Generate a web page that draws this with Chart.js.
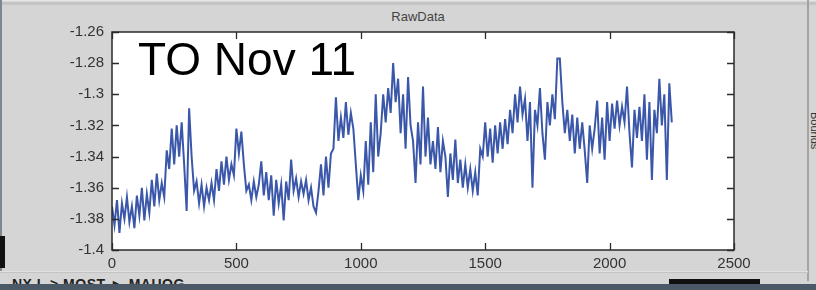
<!DOCTYPE html>
<html>
<head>
<meta charset="utf-8">
<script src="https://cdn.jsdelivr.net/npm/chart.js@4"></script>
<style>
  html, body { margin: 0; padding: 0; }
  body {
    width: 816px; height: 290px; overflow: hidden; position: relative;
    background: #d5d5d5;
    font-family: "Liberation Sans", Arial, sans-serif;
  }
  #topEdge { position: absolute; left: 0; top: 0; width: 816px; height: 6px;
    background: linear-gradient(#eeeeee 0, #bdbdbd 3px, #d5d5d5 6px); }
  #leftEdge { position: absolute; left: 0; top: 0; width: 2px; height: 272px; background: #7d8790; }
  #leftBar { position: absolute; left: 0; top: 236px; width: 5px; height: 32px; background: #111; }
  #rightEdge { position: absolute; left: 807px; top: 0; width: 2px; height: 281px; background: #a3a3a3; }
  #rightText { position: absolute; left: 811px; top: 112px; font-size: 11px; color: #333;
    transform-origin: 0 0; transform: rotate(90deg) translate(0, -10px); white-space: nowrap; }
  #bottomLine { position: absolute; left: 0; top: 271px; width: 808px; height: 2px;
    background: linear-gradient(#eeeeee, #b5b5b5); }
  #bottomText { position: absolute; left: 12px; top: 276px; font-size: 14px; font-weight: bold;
    color: #222; letter-spacing: 0.5px; white-space: nowrap; }
  #bottomBar { position: absolute; left: 669px; top: 279px; width: 91px; height: 5px; background: #111; }
  #taskBar { position: absolute; left: 0; top: 284px; width: 816px; height: 6px; background: #4b5866; }
  #chartTitle { position: absolute; left: 0; width: 836px; top: 9px; text-align: center;
    font-size: 13px; color: #444; line-height: 16px; }
  #note { position: absolute; left: 138px; top: 36px; font-size: 46px; line-height: 46px;
    color: #000; white-space: nowrap; }
  canvas { position: absolute; left: 0; top: 0; }
</style>
</head>
<body>
<div id="topEdge"></div>
<div id="leftEdge"></div>
<div id="leftBar"></div>
<div id="rightEdge"></div>
<div id="rightText">Bounds</div>
<div id="bottomLine"></div>
<div id="bottomText">NX L &gt; MOST ► MAUOG</div>
<div id="bottomBar"></div>
<div id="taskBar"></div>
<div id="chartTitle">RawData</div>
<canvas id="chart" width="816" height="290"></canvas>
<div id="note">TO Nov 11</div>

<script>
// ========= DATA (one sample every 10 units) ========= //
const sampleStep = 10;

const rawData = [
  -1.372, -1.384, -1.368, -1.389, -1.370, -1.380, -1.366, -1.382, -1.372, -1.386,
  -1.365, -1.378, -1.360, -1.381, -1.364, -1.376, -1.355, -1.372, -1.351, -1.368,
  -1.357, -1.366, -1.336, -1.348, -1.322, -1.345, -1.320, -1.340, -1.318, -1.345,
  -1.375, -1.309, -1.340, -1.362, -1.356, -1.370, -1.358, -1.372, -1.360, -1.368,
  -1.357, -1.368, -1.348, -1.362, -1.343, -1.358, -1.340, -1.355, -1.345, -1.352,
  -1.322, -1.338, -1.324, -1.345, -1.362, -1.358, -1.368, -1.356, -1.366, -1.358,
  -1.343, -1.365, -1.350, -1.368, -1.352, -1.378, -1.355, -1.370, -1.358, -1.381,
  -1.356, -1.368, -1.342, -1.362, -1.354, -1.366, -1.356, -1.364, -1.355, -1.368,
  -1.360, -1.372, -1.376, -1.362, -1.345, -1.365, -1.340, -1.360, -1.338, -1.335,
  -1.302, -1.330, -1.315, -1.328, -1.305, -1.326, -1.312, -1.322, -1.345, -1.368,
  -1.352, -1.362, -1.330, -1.358, -1.318, -1.350, -1.300, -1.340, -1.325, -1.300,
  -1.318, -1.296, -1.312, -1.280, -1.305, -1.290, -1.325, -1.300, -1.335, -1.289,
  -1.320, -1.330, -1.357, -1.318, -1.345, -1.295, -1.340, -1.315, -1.345, -1.330,
  -1.348, -1.321, -1.350, -1.330, -1.340, -1.366, -1.338, -1.355, -1.329, -1.357,
  -1.342, -1.360, -1.345, -1.360, -1.348, -1.362, -1.350, -1.365, -1.335, -1.340,
  -1.318, -1.340, -1.322, -1.344, -1.320, -1.338, -1.318, -1.335, -1.316, -1.332,
  -1.310, -1.325, -1.300, -1.318, -1.295, -1.313, -1.303, -1.330, -1.305, -1.360,
  -1.310, -1.320, -1.296, -1.325, -1.342, -1.305, -1.320, -1.300, -1.316, -1.277,
  -1.277, -1.305, -1.325, -1.310, -1.330, -1.313, -1.338, -1.315, -1.335, -1.318,
  -1.336, -1.357, -1.320, -1.335, -1.322, -1.304, -1.338, -1.315, -1.342, -1.305,
  -1.330, -1.306, -1.322, -1.304, -1.320, -1.308, -1.318, -1.295, -1.325, -1.347,
  -1.310, -1.328, -1.308, -1.330, -1.300, -1.342, -1.305, -1.355, -1.310, -1.325,
  -1.290, -1.320, -1.300, -1.355, -1.293, -1.318
];

const xTicks = [0, 500, 1000, 1500, 2000, 2500];
const yTicks = [-1.4, -1.38, -1.36, -1.34, -1.32, -1.3, -1.28, -1.26];

// ========= PLOT BOX ========= //
const AREA = { left: 112, right: 734, top: 32, bottom: 250 };
const Y_AXIS_W = 50;
const X_AXIS_H = 30;
const TICK_LEN = 7;
const labelFont = { family: "'Liberation Sans', Arial, sans-serif", size: 15 };

const points = rawData.map((v, i) => ({ x: i * sampleStep, y: v }));

// white axes background + matlab style box with inward ticks
const boxPlugin = {
  id: "matlabBox",
  beforeDraw(chart) {
    const { ctx, chartArea: a } = chart;
    ctx.save();
    ctx.fillStyle = "#ffffff";
    ctx.fillRect(a.left, a.top, a.right - a.left, a.bottom - a.top);
    ctx.restore();
  },
  afterDraw(chart) {
    const { ctx, chartArea: a, scales } = chart;
    ctx.save();
    ctx.strokeStyle = "#2b2b2b";
    ctx.lineWidth = 1.5;
    ctx.strokeRect(a.left, a.top, a.right - a.left, a.bottom - a.top);
    ctx.lineWidth = 1.3;
    ctx.beginPath();
    xTicks.forEach(v => {
      const px = Math.round(scales.x.getPixelForValue(v)) + 0.5;
      ctx.moveTo(px, a.bottom); ctx.lineTo(px, a.bottom - TICK_LEN);
      ctx.moveTo(px, a.top); ctx.lineTo(px, a.top + TICK_LEN);
    });
    yTicks.forEach(v => {
      const py = Math.round(scales.y.getPixelForValue(v)) + 0.5;
      ctx.moveTo(a.left, py); ctx.lineTo(a.left + TICK_LEN, py);
      ctx.moveTo(a.right, py); ctx.lineTo(a.right - TICK_LEN, py);
    });
    ctx.stroke();
    ctx.restore();
  }
};

new Chart(document.getElementById("chart"), {
  type: "line",
  data: {
    datasets: [{
      data: points,
      borderColor: "#3b57a9",
      borderWidth: 2,
      pointRadius: 0,
      tension: 0,
      fill: false
    }]
  },
  options: {
    responsive: false,
    animation: false,
    events: [],
    layout: {
      padding: {
        left: AREA.left - Y_AXIS_W,
        right: 816 - AREA.right,
        top: AREA.top,
        bottom: 290 - AREA.bottom - X_AXIS_H
      }
    },
    plugins: { legend: { display: false }, tooltip: { enabled: false }, title: { display: false } },
    scales: {
      x: {
        type: "linear",
        min: 0, max: 2500,
        grid: { display: false, drawTicks: false },
        border: { display: false },
        afterFit: s => { s.height = X_AXIS_H; },
        afterBuildTicks: s => { s.ticks = xTicks.map(v => ({ value: v })); },
        ticks: { color: "#333", font: labelFont, padding: 5, maxRotation: 0, autoSkip: false,
                 callback: v => String(v) }
      },
      y: {
        min: -1.4, max: -1.26,
        grid: { display: false, drawTicks: false },
        border: { display: false },
        afterFit: s => { s.width = Y_AXIS_W; },
        afterBuildTicks: s => { s.ticks = yTicks.map(v => ({ value: v })); },
        ticks: { color: "#333", font: labelFont, padding: 8, autoSkip: false,
                 callback: v => String(+v.toFixed(2)) }
      }
    }
  },
  plugins: [boxPlugin]
});
</script>
</body>
</html>
